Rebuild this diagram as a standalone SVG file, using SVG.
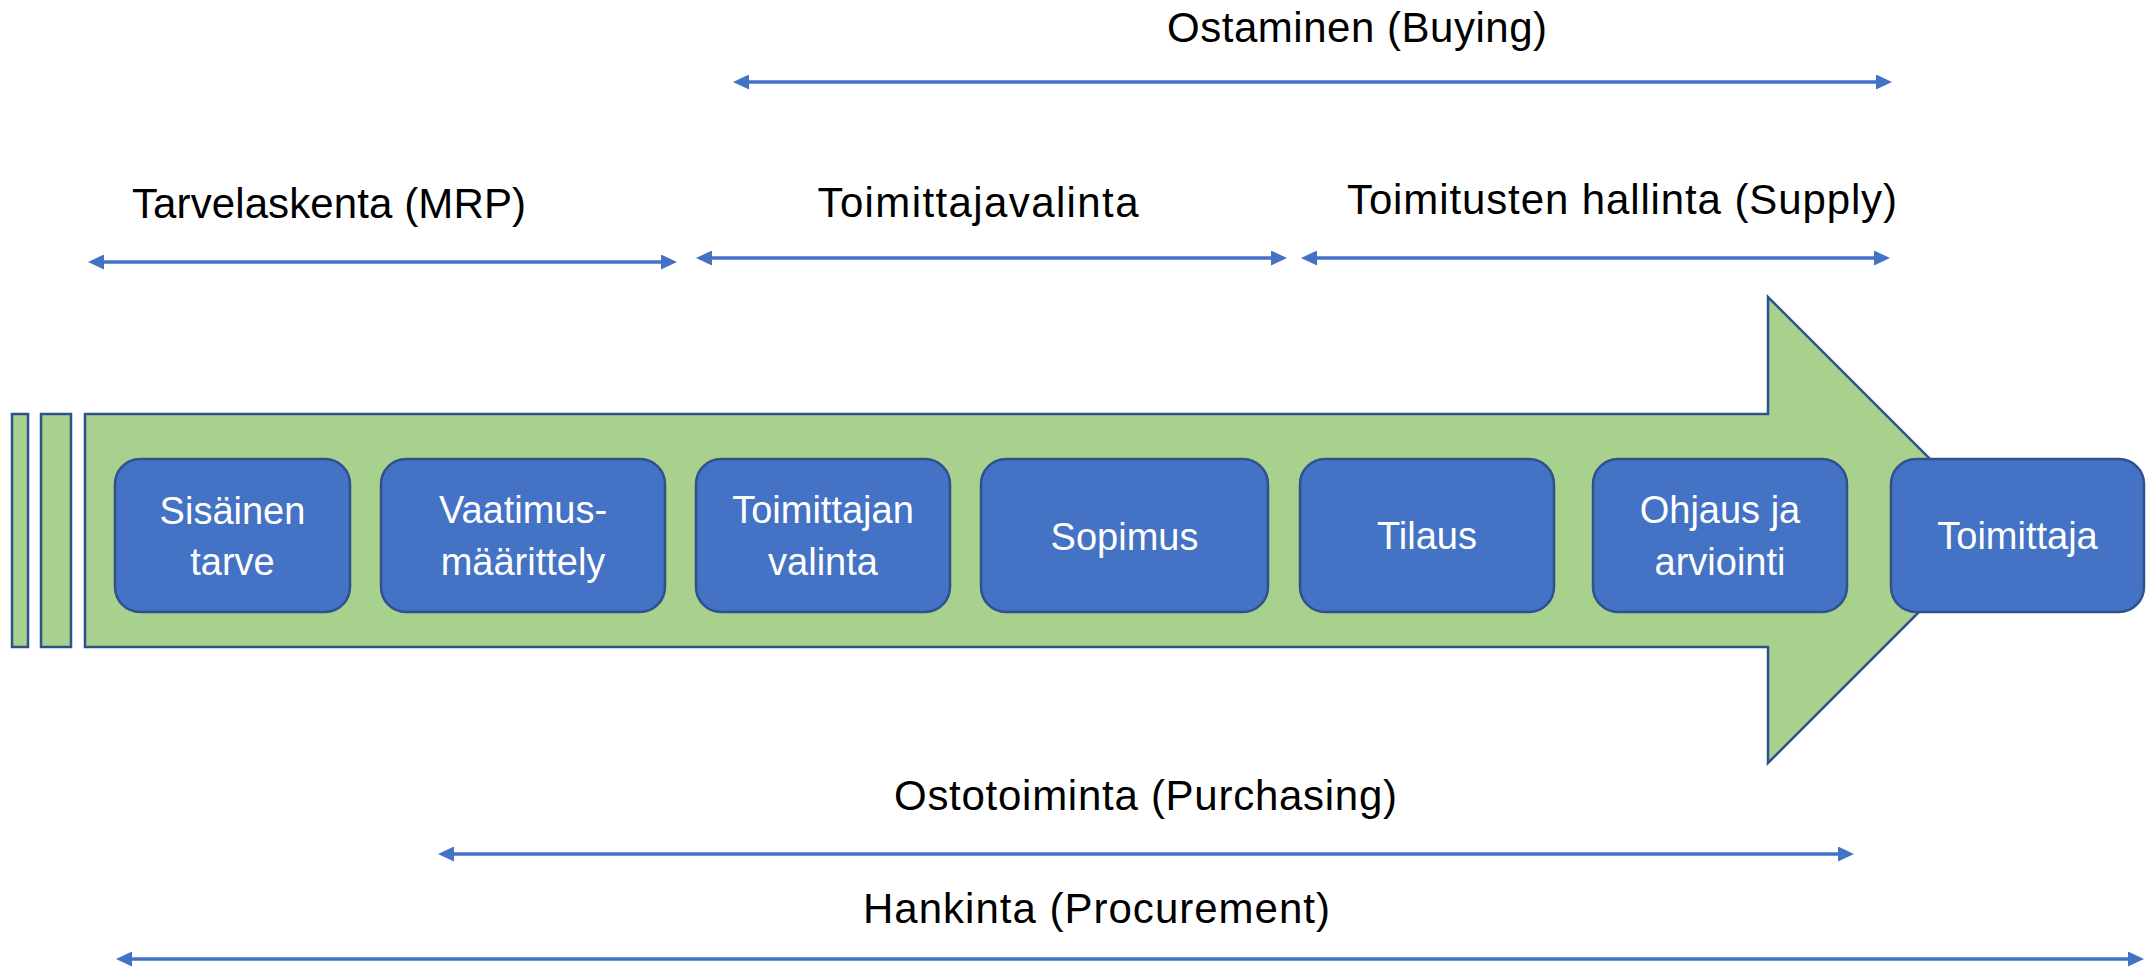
<svg xmlns="http://www.w3.org/2000/svg" width="2146" height="967" viewBox="0 0 2146 967">
<style>
.bg{fill:#ffffff}
.green{fill:#A9D18E;stroke:#2F528F;stroke-width:2.5;stroke-linejoin:miter}
.box{fill:#4472C4;stroke:#2F528F;stroke-width:2.5}
.bt{font-family:"Liberation Sans",Arial,sans-serif;font-size:38px;fill:#ffffff;text-anchor:middle}
.lbl{font-family:"Liberation Sans",Arial,sans-serif;font-size:42px;fill:#000000;text-anchor:middle}
.conn{stroke:#4472C4;stroke-width:3.5;fill:none;marker-start:url(#ah);marker-end:url(#ah)}
</style>
<defs>
<marker id="ah" markerUnits="userSpaceOnUse" viewBox="0 0 16 15" markerWidth="16" markerHeight="15" refX="6" refY="7.5" orient="auto-start-reverse">
<path d="M0,0 L16,7.5 L0,15 z" fill="#4472C4"/>
</marker>
</defs>
<rect class="bg" x="0" y="0" width="2146" height="967"/>
<g id="big-arrow">
<rect class="green" x="12" y="414" width="16" height="233"/>
<rect class="green" x="41" y="414" width="30" height="233"/>
<polygon class="green" points="85,414 1768,414 1768,297 2001,530 1768,763 1768,647 85,647"/>
</g>
<g id="n1"><rect class="box" x="115" y="459" width="235" height="153" rx="25"/><text class="bt" x="232.5" y="524">Sisäinen</text><text class="bt" x="232.5" y="575">tarve</text></g>
<g id="n2"><rect class="box" x="381" y="459" width="284" height="153" rx="25"/><text class="bt" x="523" y="523">Vaatimus-</text><text class="bt" x="523" y="575">määrittely</text></g>
<g id="n3"><rect class="box" x="696" y="459" width="254" height="153" rx="25"/><text class="bt" x="823" y="523">Toimittajan</text><text class="bt" x="823" y="575">valinta</text></g>
<g id="n4"><rect class="box" x="981" y="459" width="287" height="153" rx="25"/><text class="bt" x="1124.5" y="550">Sopimus</text></g>
<g id="n5"><rect class="box" x="1300" y="459" width="254" height="153" rx="25"/><text class="bt" x="1427" y="549">Tilaus</text></g>
<g id="n6"><rect class="box" x="1593" y="459" width="254" height="153" rx="25"/><text class="bt" x="1720" y="523">Ohjaus ja</text><text class="bt" x="1720" y="575">arviointi</text></g>
<g id="n7"><rect class="box" x="1891" y="459" width="253" height="153" rx="25"/><text class="bt" x="2017.5" y="549">Toimittaja</text></g>
<g id="connectors">
<line class="conn" x1="743" y1="82" x2="1882" y2="82"/>
<line class="conn" x1="98" y1="262" x2="667" y2="262"/>
<line class="conn" x1="706" y1="258" x2="1277" y2="258"/>
<line class="conn" x1="1311" y1="258" x2="1880" y2="258"/>
<line class="conn" x1="448" y1="854" x2="1844" y2="854"/>
<line class="conn" x1="126" y1="959" x2="2134" y2="959"/>
</g>
<g id="labels">
<text class="lbl" x="1357" y="42" textLength="380">Ostaminen (Buying)</text>
<text class="lbl" x="329" y="218" textLength="394">Tarvelaskenta (MRP)</text>
<text class="lbl" x="978" y="217" textLength="321">Toimittajavalinta</text>
<text class="lbl" x="1622" y="214" textLength="550">Toimitusten hallinta (Supply)</text>
<text class="lbl" x="1145.5" y="810" textLength="503">Ostotoiminta (Purchasing)</text>
<text class="lbl" x="1096.5" y="923" textLength="467">Hankinta (Procurement)</text>
</g>
</svg>
